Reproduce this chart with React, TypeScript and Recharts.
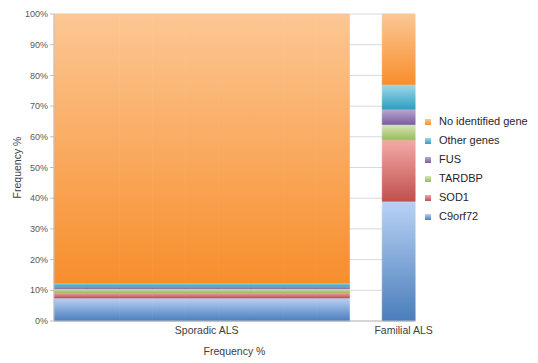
import React from "react";
import { BarChart, Bar, XAxis, YAxis, CartesianGrid, Legend } from "recharts";

// Two cohorts, stacked to 100%
const categories = ["Sporadic ALS", "Familial ALS"];
const c9orf72 = [7.5, 39];
const sod1 = [1.8, 20];
const tardbp = [1.2, 5];
const fus = [0.8, 5];
const otherGenes = [1.0, 8];
const noGene = [87.7, 23];

const yTicks = [0, 10, 20, 30, 40, 50, 60, 70, 80, 90, 100];

const SERIES = [
  { key: "c9", name: "C9orf72", values: c9orf72, top: "#b9d2f6", bottom: "#4a7ebb" },
  { key: "sod1", name: "SOD1", values: sod1, top: "#f4aaa8", bottom: "#c0504d" },
  { key: "tardbp", name: "TARDBP", values: tardbp, top: "#d7e7b8", bottom: "#9bbb59" },
  { key: "fus", name: "FUS", values: fus, top: "#b9a9d0", bottom: "#7a5e9e" },
  { key: "other", name: "Other genes", values: otherGenes, top: "#9fd8ea", bottom: "#2f9fc0" },
  { key: "none", name: "No identified gene", values: noGene, top: "#fcc794", bottom: "#f78e2c" },
];

// Excel-style layout: the wide bar spans 9 category slots, one empty slot, then the narrow bar
const slotGroup = [0, 0, 0, 0, 0, 0, 0, 0, 0, null, 1];
const labelSlot = [4, 10];

const rows = slotGroup.map((g, i) => {
  const row: any = { slot: i, label: labelSlot.indexOf(i) >= 0 ? categories[labelSlot.indexOf(i)] : "" };
  SERIES.forEach((s) => {
    row[s.key] = g === null ? null : s.values[g];
  });
  return row;
});

const legendOrder = SERIES.map((s) => s.name).reverse();

export default function App() {
  return (
    <div style={{ position: "absolute", left: 0, top: 0, fontFamily: "'Liberation Sans', Arial, sans-serif" }}>
      <svg width={0} height={0} style={{ position: "absolute" }}>
        <defs>
          {SERIES.map((s) => (
            <linearGradient key={s.key} id={`g-${s.key}`} x1="0" y1="0" x2="0" y2="1">
              <stop offset="0%" stopColor={s.top} />
              <stop offset="100%" stopColor={s.bottom} />
            </linearGradient>
          ))}
        </defs>
      </svg>
      <BarChart
        width={538}
        height={363}
        data={rows}
        margin={{ top: 14, right: 123, bottom: 0, left: 0 }}
        barCategoryGap={0}
        barGap={0}
      >
        <CartesianGrid vertical={false} stroke="#d9d9d9" />
        <XAxis
          dataKey="slot"
          interval={0}
          height={42}
          tickLine={false}
          tickSize={4}
          tickMargin={2}
          axisLine={{ stroke: "#bfbfbf" }}
          tickFormatter={(v: number) => rows[v].label}
          tick={{ fontSize: 10.5, fill: "#404040", dx: 5 }}
          label={{ value: "Frequency %", position: "insideBottom", offset: 8, fontSize: 10.5, fill: "#404040" }}
        />
        <YAxis
          width={54}
          domain={[0, 100]}
          ticks={yTicks}
          tickFormatter={(v: number) => `${v}%`}
          tickSize={4}
          tickMargin={2}
          tickLine={{ stroke: "#bfbfbf" }}
          axisLine={{ stroke: "#bfbfbf" }}
          tick={{ fontSize: 9, fill: "#595959" }}
          label={{
            value: "Frequency %",
            angle: -90,
            position: "insideLeft",
            offset: 17,
            fontSize: 10.5,
            fill: "#404040",
            style: { textAnchor: "middle" },
          }}
        />
        {SERIES.map((s) => (
          <Bar
            key={s.key}
            dataKey={s.key}
            name={s.name}
            stackId="a"
            fill={`url(#g-${s.key})`}
            stroke={`url(#g-${s.key})`}
            strokeWidth={0.6}
            isAnimationActive={false}
          />
        ))}
        <Legend
          layout="vertical"
          align="center"
          verticalAlign="middle"
          iconType="square"
          iconSize={6}
          itemSorter={(item: any) => legendOrder.indexOf(item.value)}
          wrapperStyle={{ left: 425, top: 112, fontSize: 11, lineHeight: "19px", width: 113 }}
          formatter={(value: string) => (
            <span style={{ color: "#262626", paddingLeft: 4 }}>{value}</span>
          )}
        />
      </BarChart>
    </div>
  );
}
